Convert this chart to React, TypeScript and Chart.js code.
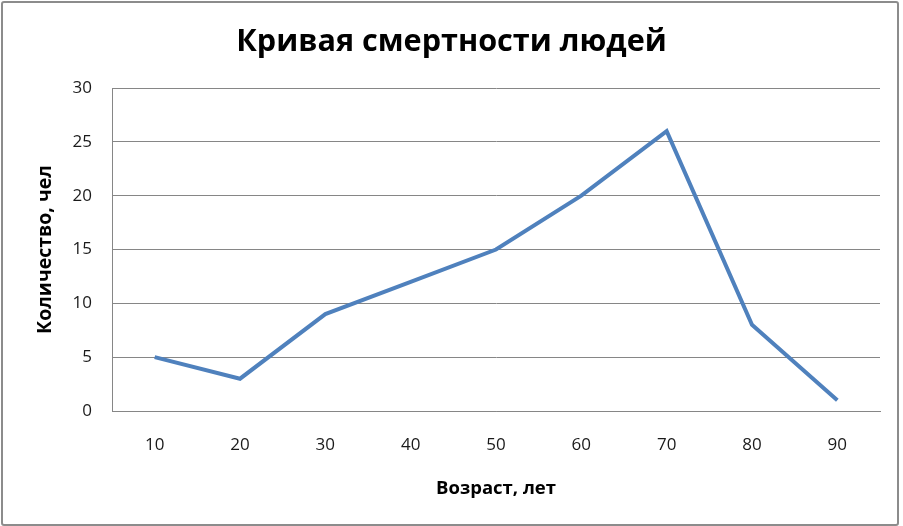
import React, { useEffect, useRef } from "react";
import { Chart, registerables } from "chart.js";

Chart.register(...registerables);

const categories: string[] = ["10", "20", "30", "40", "50", "60", "70", "80", "90"];
const deaths: number[] = [5, 3, 9, 12, 15, 20, 26, 8, 1];
const yTicks: number[] = [0, 5, 10, 15, 20, 25, 30];

const FONT = "'Open Sans', 'Noto Sans', sans-serif";

export default function App() {
  const ref = useRef<HTMLCanvasElement | null>(null);

  useEffect(() => {
    if (!ref.current) return;
    const chart = new Chart(ref.current, {
      type: "line",
      data: {
        labels: categories,
        datasets: [
          {
            label: "Количество",
            data: deaths,
            borderColor: "#4F81BD",
            backgroundColor: "#4F81BD",
            borderWidth: 4,
            pointRadius: 0,
            tension: 0,
            fill: false,
            yAxisID: "y",
          },
        ],
      },
      options: {
        responsive: false,
        animation: false,
        layout: { padding: { left: 0, right: 0, top: 0, bottom: 0 } },
        plugins: {
          legend: { display: false },
          tooltip: { enabled: false },
          title: {
            display: true,
            text: "Кривая смертности людей",
            color: "#000",
            font: { family: FONT, size: 30.6, weight: "bold", lineHeight: 1.2 },
            padding: { top: 24, bottom: 27.3 },
          },
        },
        scales: {
          x: {
            offset: true,
            grid: { display: false, drawTicks: false },
            border: { display: true, color: "#868686", width: 1 },
            ticks: {
              color: "#1a1a1a",
              font: { family: FONT, size: 17 },
              padding: 24,
              maxRotation: 0,
            },
            title: {
              display: true,
              text: "Возраст, лет",
              color: "#000",
              font: { family: FONT, size: 18.5, weight: "bold", lineHeight: 1.2 },
              padding: { top: 0, bottom: 26 },
            },
            afterFit: (scale: any) => {
              scale.height = 115;
            },
          },
          y: {
            min: 0,
            max: 30,
            afterBuildTicks: (scale: any) => {
              scale.ticks = yTicks.map((v) => ({ value: v }));
            },
            grid: { color: "#868686", lineWidth: 1, drawTicks: false },
            border: { display: true, color: "#868686", width: 1 },
            ticks: {
              color: "#1a1a1a",
              font: { family: FONT, size: 17 },
              padding: 20,
            },
            title: {
              display: true,
              text: "Количество, чел",
              color: "#000",
              font: { family: FONT, size: 19.5, weight: "bold", lineHeight: 1.2 },
              padding: { top: 34, bottom: 0 },
            },
            afterFit: (scale: any) => {
              scale.width = 112;
            },
          },
          yRight: {
            position: "right",
            min: 0,
            max: 30,
            grid: { display: false, drawTicks: false },
            border: { display: false },
            ticks: { display: false },
            afterFit: (scale: any) => {
              scale.width = 23;
            },
          },
        },
      },
    });
    return () => chart.destroy();
  }, []);

  return (
    <div style={{ position: "absolute", left: 0, top: 0, width: 903, height: 526, background: "#fff" }}>
      <canvas ref={ref} width={903} height={526} style={{ position: "absolute", left: 0, top: 0, width: 903, height: 526 }} />
      <div
        style={{
          position: "absolute",
          left: 1,
          top: 1,
          width: 898,
          height: 525,
          boxSizing: "border-box",
          border: "2px solid #8c8c8c",
          borderRadius: 3,
          pointerEvents: "none",
        }}
      />
    </div>
  );
}
